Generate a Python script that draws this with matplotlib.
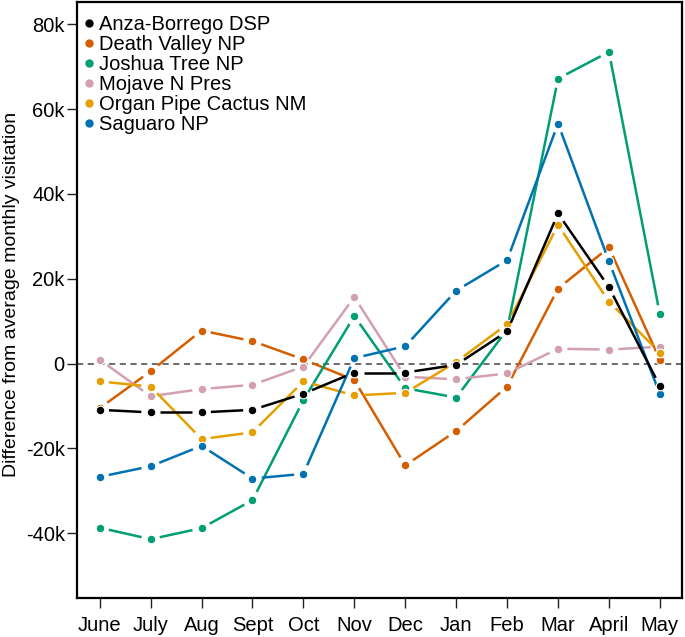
import numpy as np
import matplotlib
matplotlib.use("Agg")
import matplotlib.pyplot as plt

months = ["June", "July", "Aug", "Sept", "Oct", "Nov", "Dec", "Jan", "Feb", "Mar", "April", "May"]

anza = [-10.9, -11.5, -11.5, -10.9, -7.1, -2.1, -2.1, -0.3, 7.6, 35.4, 18.0, -5.3]
death_valley = [-10.5, -1.8, 7.8, 5.3, 1.0, -3.9, -24.0, -15.9, -5.4, 17.7, 27.4, 0.9]
joshua_tree = [-38.7, -41.4, -38.8, -32.2, -8.6, 11.2, -5.8, -8.0, 8.0, 67.2, 73.5, 11.6]
mojave = [0.9, -7.7, -6.0, -5.0, -0.7, 15.7, -3.1, -3.7, -2.3, 3.5, 3.3, 4.0]
organ_pipe = [-4.2, -5.4, -17.8, -16.2, -4.2, -7.5, -6.9, 0.4, 9.3, 32.7, 14.6, 2.6]
saguaro = [-26.7, -24.2, -19.4, -27.1, -26.0, 1.3, 4.1, 17.2, 24.4, 56.6, 24.1, -7.2]

series = [
    ("Anza-Borrego DSP", anza, "#000000"),
    ("Death Valley NP", death_valley, "#D55E00"),
    ("Joshua Tree NP", joshua_tree, "#009E73"),
    ("Mojave N Pres", mojave, "#D3A0B2"),
    ("Organ Pipe Cactus NM", organ_pipe, "#E69F00"),
    ("Saguaro NP", saguaro, "#0072B2"),
]

plt.rcParams["font.family"] = ["Liberation Sans", "DejaVu Sans"]

W, H = 685, 637
left, right, top, bottom = 77.3, 682.3, 2.3, 597.7
fig = plt.figure(figsize=(W / 100, H / 100), dpi=100)
ax = fig.add_axes([left / W, 1 - bottom / H, (right - left) / W, (bottom - top) / H])

x = np.arange(1, len(months) + 1)
xlim = (0.56, 12.44)
ylim = (-55.2, 85.2)
ax.set_xlim(*xlim)
ax.set_ylim(*ylim)

ax.axhline(0, color="#444444", lw=1.1, ls=(0, (4, 3)), zorder=1)

# pixels per data unit, used to leave a gap around each point (R type="b")
sx = (right - left) / (xlim[1] - xlim[0])
sy = (bottom - top) / (ylim[1] - ylim[0])
gap = 9.3


def gapped_segments(xs, ys):
    xs = np.asarray(xs, float)
    ys = np.asarray(ys, float)
    segs = []
    for i in range(len(xs) - 1):
        dx = (xs[i + 1] - xs[i]) * sx
        dy = (ys[i + 1] - ys[i]) * sy
        L = np.hypot(dx, dy)
        if L <= 2 * gap:
            continue
        f = gap / L
        x0 = xs[i] + (xs[i + 1] - xs[i]) * f
        y0 = ys[i] + (ys[i + 1] - ys[i]) * f
        x1 = xs[i + 1] - (xs[i + 1] - xs[i]) * f
        y1 = ys[i + 1] - (ys[i + 1] - ys[i]) * f
        segs.append(((x0, x1), (y0, y1)))
    return segs


order = [1, 2, 3, 4, 5, 0]
for z, i in enumerate(order):
    name, vals, col = series[i]
    for sxs, sys_ in gapped_segments(x, vals):
        ax.plot(sxs, sys_, color=col, lw=1.8, solid_capstyle="butt", zorder=2 + z)
    ax.plot(x, vals, ls="none", marker="o", ms=6.2, color=col, mec="white",
            mew=0.8, zorder=2 + z)

# legend
handles = [plt.Line2D([], [], ls="none", marker="o", ms=5, color=c) for _, _, c in series]
ax.legend(handles, [n for n, _, _ in series], loc="upper left", frameon=False,
          fontsize=14.5, handletextpad=0.1, labelspacing=0.05,
          borderaxespad=0.0, handlelength=0.8, borderpad=0.25,
          bbox_to_anchor=(-0.003, 0.987))

ax.set_xticks(x)
ax.set_xticklabels(months)
yt = [-40, -20, 0, 20, 40, 60, 80]
ax.set_yticks(yt)
ax.set_yticklabels([f"{v}k" if v != 0 else "0" for v in yt])
ax.tick_params(labelsize=14.5, length=7.5, width=1.0, color="#222222")
ax.tick_params(axis="x", pad=6)
ax.tick_params(axis="y", pad=1.5)
ax.set_ylabel("Difference from average monthly visitation", fontsize=14, va="center")
ax.yaxis.set_label_coords((12.0 - left) / (right - left), 1 - (294 - top) / (bottom - top))
for s in ax.spines.values():
    s.set_linewidth(1.6)

fig.savefig("out.png", dpi=100)
